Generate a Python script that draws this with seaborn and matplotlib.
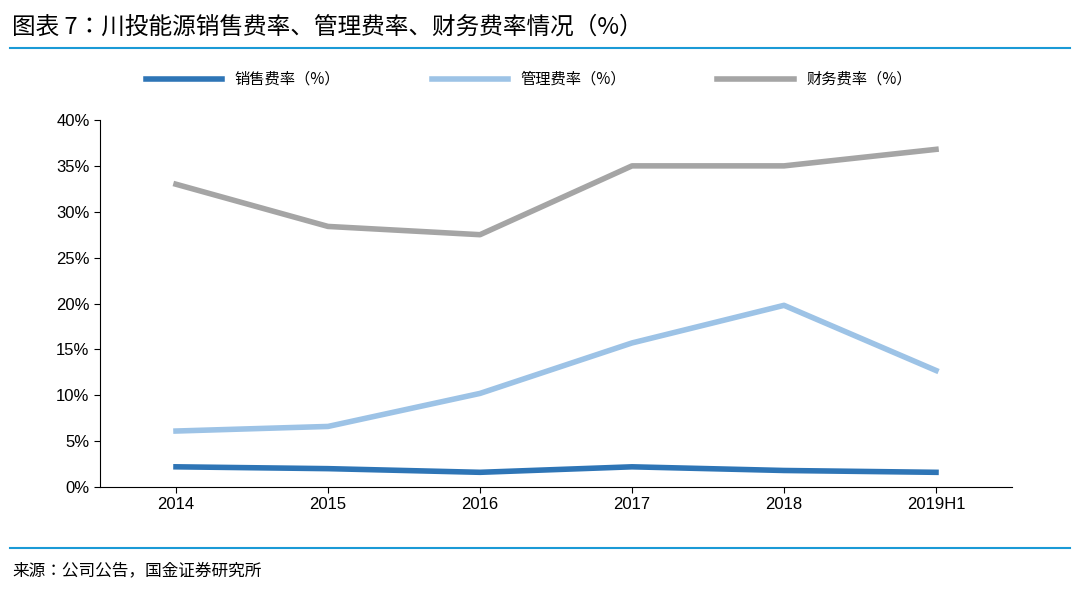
import matplotlib
matplotlib.use("Agg")
import matplotlib.pyplot as plt
import seaborn as sns
import pandas as pd
from matplotlib.ticker import PercentFormatter

years = ["2014", "2015", "2016", "2017", "2018", "2019H1"]
sales = [2.2, 2.0, 1.6, 2.2, 1.8, 1.6]
admin = [6.1, 6.6, 10.2, 15.7, 19.8, 12.7]
finance = [33.0, 28.4, 27.5, 35.0, 35.0, 36.8]
names = ["销售费率（%）", "管理费率（%）", "财务费率（%）"]
colors = ["#2E75B6", "#9DC3E6", "#A5A5A5"]

CJK = ["Noto Sans CJK SC", "Noto Sans CJK JP", "Noto Sans CJK TC", "Noto Sans CJK KR", "DejaVu Sans"]
df = pd.DataFrame({"year": years * 3,
                   "value": sales + admin + finance,
                   "series": sum([[n] * 6 for n in names], [])})

fig = plt.figure(figsize=(10.8, 5.9), dpi=100)
ax = fig.add_axes([100/1080, 1-487/590, 912/1080, 367/590])
sns.lineplot(data=df, x="year", y="value", hue="series", palette=colors,
             linewidth=4, ax=ax, sort=False)
ax.set_ylim(0, 40)
ax.set_xlim(-0.5, 5.5)
ax.yaxis.set_major_formatter(PercentFormatter(decimals=0))
ax.set_yticks(range(0, 41, 5))
ax.set_xlabel(""); ax.set_ylabel("")
for s in ["top", "right"]:
    ax.spines[s].set_visible(False)
ax.tick_params(labelsize=12, length=4)
for lab in ax.get_xticklabels() + ax.get_yticklabels():
    lab.set_fontfamily("Liberation Sans")
ax.legend(loc="lower center", bbox_to_anchor=(0.47, 1.05), ncol=3, frameon=False,
          prop={"family": CJK, "size": 11}, handlelength=5, columnspacing=6)

fig.text(12/1080, 1-27/590, "图表 7：川投能源销售费率、管理费率、财务费率情况（%）",
         fontsize=17, style="italic", va="center", fontfamily=CJK)
fig.add_artist(plt.Line2D([10/1080, 1070/1080], [1-48/590]*2, color="#1A9AD6", lw=1.5))
fig.add_artist(plt.Line2D([10/1080, 1070/1080], [1-548/590]*2, color="#1A9AD6", lw=1.5))
fig.text(12/1080, 1-571/590, "来源：公司公告，国金证券研究所", fontsize=12, va="center", fontfamily=CJK)
fig.savefig("out.png", dpi=100)
